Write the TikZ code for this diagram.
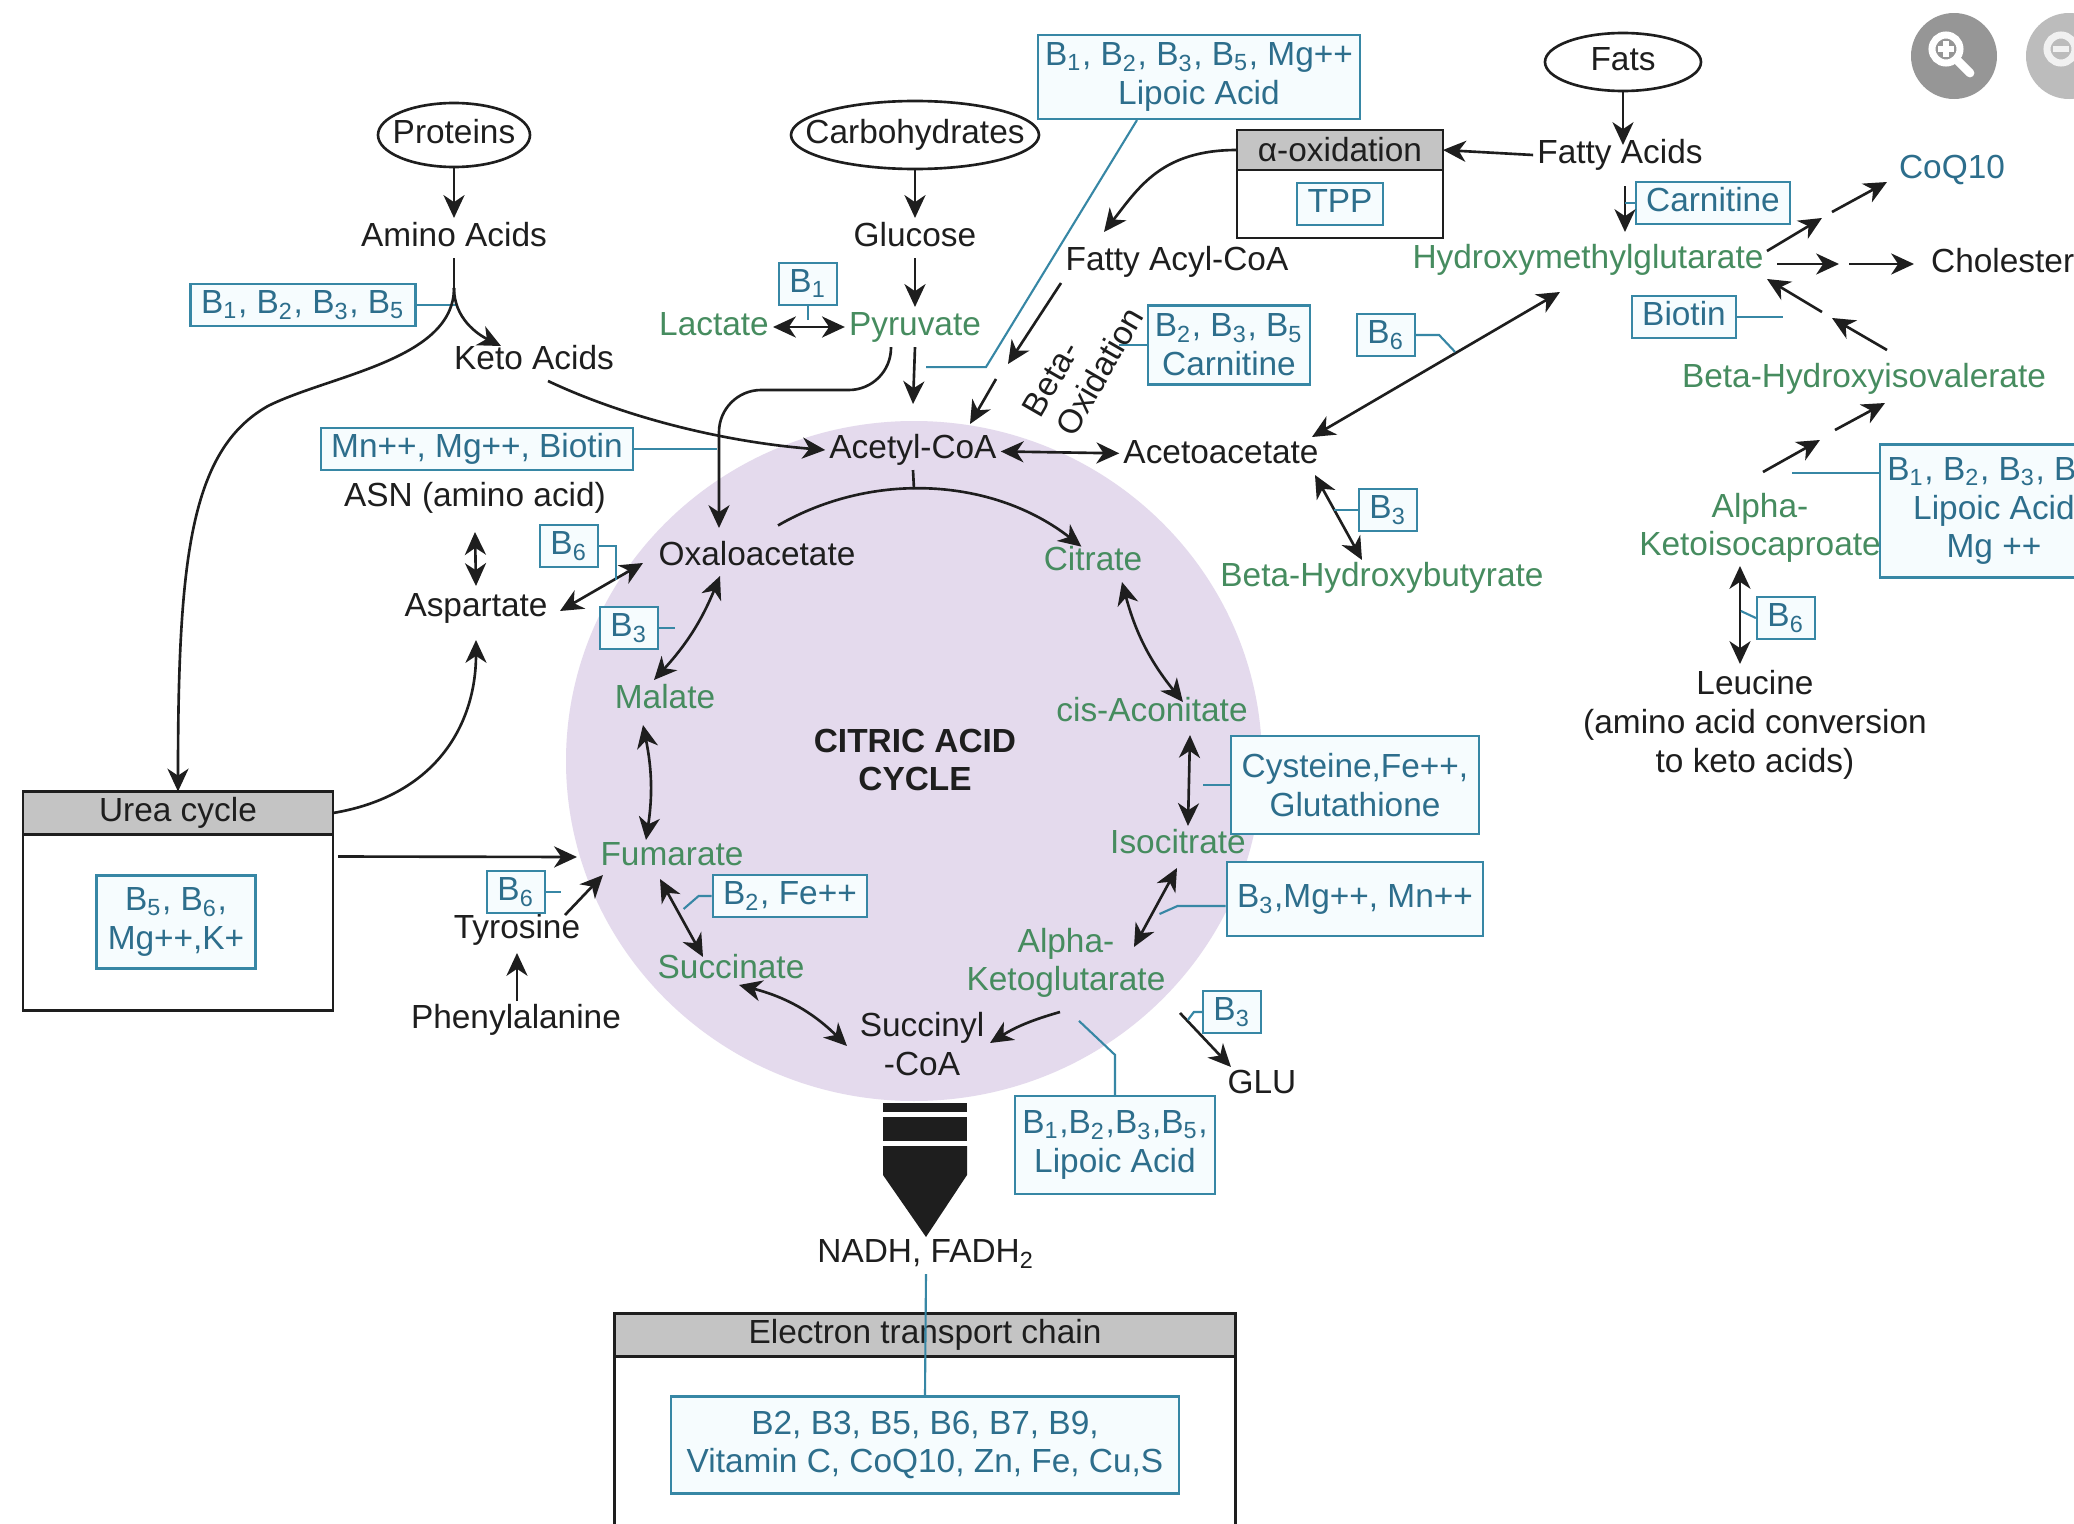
\documentclass[tikz,border=0pt]{standalone}
\usepackage{fontspec}
\setmainfont{Liberation Sans}
\usetikzlibrary{arrows.meta,positioning,calc}

\definecolor{metgreen}{RGB}{70,140,95}
\definecolor{vitline}{RGB}{55,135,165}
\definecolor{vittext}{RGB}{45,110,140}
\definecolor{vitfill}{RGB}{246,252,254}
\definecolor{cycfill}{RGB}{228,218,237}
\definecolor{hdrgray}{RGB}{196,196,196}
\definecolor{ink}{RGB}{30,30,30}
\definecolor{iconA}{RGB}{150,150,150}
\definecolor{iconB}{RGB}{188,188,188}

\newcommand{\figfont}{\fontsize{9.5}{11}\selectfont}
\newcommand{\vitB}[1]{B\textsubscript{#1}}

\tikzset{
  >={Stealth[length=6.5pt,width=6pt,inset=2pt]},
  txt/.style={font=\figfont, text=ink, inner sep=1pt, text height=7pt, text depth=2pt},
  txtm/.style={font=\figfont, text=ink, inner sep=1pt, align=center},
  grn/.style={text=metgreen},
  vit/.style={draw=vitline, fill=vitfill, text=vittext, line width=0.6pt, font=\figfont, inner xsep=3pt, inner ysep=1.5pt, text height=7pt, text depth=2pt},
  vitm/.style={draw=vitline, fill=vitfill, text=vittext, line width=0.6pt, font=\figfont, inner sep=2pt, align=center},
  hdr/.style={draw=ink, fill=hdrgray, line width=0.8pt, font=\figfont, text=ink, inner sep=0pt, outer sep=0pt},
  panel/.style={draw=ink, fill=white, line width=0.8pt, inner sep=0pt, outer sep=0pt},
  ln/.style={draw=ink, line width=0.75pt},
  arr/.style={->, draw=ink, line width=0.75pt},
  darr/.style={<->, draw=ink, line width=0.75pt},
  bline/.style={draw=vitline, line width=0.6pt},
}

\begin{document}
\begin{tikzpicture}[x=0.01cm,y=0.01cm,yscale=-1,xscale=1]
\useasboundingbox (0,0) rectangle (2074,1524);
\clip (0,0) rectangle (2074,1524);
\fill[white] (0,0) rectangle (2074,1524);

%Shape: Ellipse
\coordinate (cyc) at (914,761);
\fill[cycfill] (cyc) ellipse [x radius=348, y radius=340];

%Shape: Rectangle
\node[hdr, minimum width=2.06cm, minimum height=0.40cm] (aoxh) at (1340,150) {α-oxidation};
\node[panel, minimum width=2.06cm, minimum height=0.68cm, below=0pt of aoxh] (aoxb) {};
\node[hdr, minimum width=3.10cm, minimum height=0.43cm] (ureah) at (178,813) {Urea cycle};
\node[panel, minimum width=3.10cm, minimum height=1.76cm, below=0pt of ureah] (ureab) {};
\node[hdr, minimum width=6.20cm, minimum height=0.43cm] (etch) at (925,1335) {Electron transport chain};
\node[panel, minimum width=6.20cm, minimum height=2.20cm, below=0pt of etch] (etcb) {};

% Text Node
\node[txt] (prot) at (454,135) {Proteins};
\draw[ln] (prot) ellipse [x radius=76, y radius=32];
\node[txt] (carb) at (915,135) {Carbohydrates};
\draw[ln] (carb) ellipse [x radius=124, y radius=34];
\node[txt] (fats) at (1623,62) {Fats};
\draw[ln] (fats) ellipse [x radius=78, y radius=29];

\node[txt] (amino) at (454,238) {Amino Acids};
\node[txt] (gluc) at (915,238) {Glucose};
\node[txt] (keto) at (534,361) {Keto Acids};
\node[txt, grn] (lact) at (714,327) {Lactate};
\node[txt, grn] (pyr) at (915,327) {Pyruvate};
\node[vit] (vB1) at (808,284) {\vitB{1}};
\node[vit] (vBa) at (303,305) {\vitB{1}, \vitB{2}, \vitB{3}, \vitB{5}};
\node[vitm, minimum width=3.14cm, minimum height=0.84cm] (vLip) at (1199,77) {\vitB{1}, \vitB{2}, \vitB{3}, \vitB{5}, Mg++\\Lipoic Acid};
\node[txt] (facoa) at (1177,262) {Fatty Acyl-CoA};
\node[vit] (vTPP) at (aoxb) {TPP};
\node[txt] (fatac) at (1620,155) {Fatty Acids};
\node[vit] (vCarn) at (1713,203) {Carnitine};
\node[txt, grn] (hmg) at (1588,260) {Hydroxymethylglutarate};
\node[txt, text=vittext] (coq) at (1952,170) {CoQ10};
\node[txt, anchor=west] (chol) at (1927,264) {Cholesterol};
\node[vit] (vBiot) at (1684,317) {Biotin};
\node[txt, grn] (bhiv) at (1864,379) {Beta-Hydroxyisovalerate};
\node[vit] (vB6a) at (1386,335) {\vitB{6}};
\node[vitm, minimum width=1.52cm, minimum height=0.79cm] (vBox2) at (1229,345) {\vitB{2}, \vitB{3}, \vitB{5}\\Carnitine};
\node[txtm, rotate=60, align=left] (betaox) at (1083,362) {Beta-\\Oxidation};
\node[txt] (acoa) at (913,450) {Acetyl-CoA};
\node[txt] (acac) at (1221,455) {Acetoacetate};
\node[vit] (vB3a) at (1388,510) {\vitB{3}};
\node[txt, grn] (bhb) at (1382,578) {Beta-Hydroxybutyrate};
\node[vit] (vMn) at (477,449) {Mn++, Mg++, Biotin};
\node[txt] (asn) at (475,498) {ASN (amino acid)};
\node[txt] (asp) at (476,608) {Aspartate};
\node[vit] (vB6b) at (569,546) {\vitB{6}};
\node[txt] (oxa) at (757,557) {Oxaloacetate};
\node[vit] (vB3b) at (629,628) {\vitB{3}};
\node[txt, grn] (mal) at (665,700) {Malate};
\node[txtm, font=\figfont\bfseries] (cac) at (915,760) {CITRIC ACID\\CYCLE};
\node[txt, grn] (cit) at (1093,562) {Citrate};
\node[txt, grn] (cisa) at (1152,713) {cis-Aconitate};
\node[vitm, minimum width=2.48cm, minimum height=0.98cm] (vCys) at (1355,785) {Cysteine,Fe++,\\Glutathione};
\node[txt, grn] (isoc) at (1178,845) {Isocitrate};
\node[vit, minimum width=2.48cm, minimum height=0.74cm] (vB3Mg) at (1355,899) {\vitB{3},Mg++, Mn++};
\node[txtm, grn] (akg) at (1066,963) {Alpha-\\Ketoglutarate};
\node[vit] (vB3c) at (1232,1012) {\vitB{3}};
\node[txt] (glu) at (1262,1085) {GLU};
\node[vitm, minimum width=1.93cm, minimum height=0.98cm] (vLip2) at (1115,1145) {\vitB{1},\vitB{2},\vitB{3},\vitB{5},\\Lipoic Acid};
\node[txtm] (sucoa) at (922,1044) {Succinyl\\-CoA};
\node[txt, grn] (succ) at (731,970) {Succinate};
\node[txt, grn] (fum) at (672,857) {Fumarate};
\node[vit] (vB2Fe) at (790,896) {\vitB{2}, Fe++};
\node[txt] (tyr) at (517,930) {Tyrosine};
\node[vit] (vB6c) at (516,892) {\vitB{6}};
\node[txt] (phe) at (516,1020) {Phenylalanine};
\node[vitm, minimum width=1.59cm, minimum height=0.93cm] (vUrea) at (176,922) {\vitB{5}, \vitB{6},\\Mg++,K+};
\node[txt] (nadh) at (926,1254) {NADH, FADH\textsubscript{2}};
\node[vitm, minimum width=5.08cm, minimum height=0.97cm] (vEtc) at (925,1445) {B2, B3, B5, B6, B7, B9,\\Vitamin C, CoQ10, Zn, Fe, Cu,S};
\node[txtm, grn] (akic) at (1760,528) {Alpha-\\Ketoisocaproate};
\node[vitm, minimum height=1.33cm] (vBr) at (1994,511) {\vitB{1}, \vitB{2}, \vitB{3}, \vitB{5},\\Lipoic Acid\\Mg ++};
\node[txtm] (leu) at (1755,725) {Leucine\\(amino acid conversion\\to keto acids)};
\node[vit] (vB6d) at (1786,618) {\vitB{6}};

%Shape: Polygon
\fill[ink] (883,1103) rectangle (967,1112);
\fill[ink] (883,1117) rectangle (967,1141);
\fill[ink] (883,1146) -- (967,1146) -- (967,1175) -- (926,1237) -- (883,1175) -- cycle;

%Straight Lines
\draw[arr] ($(prot)+(0,32)$) -- (amino.north);
\draw[arr] ($(carb)+(0,34)$) -- (gluc.north);
\draw[arr] (gluc.south) -- (pyr.north);
\draw[arr] ($(fats)+(0,29)$) -- ($(fatac)+(3,-10)$);
\draw[arr] (pyr.south) -- ($(acoa)+(0,-46)$);
\draw[darr] (lact) -- (pyr);
\draw[bline] (vB1.south) -- ++(0,14);
\draw[arr, rounded corners=12] ($(pyr)+(-24,20)$) -- ++(0,43) -| ($(oxa)+(-38,-29)$);
\draw[bline] (vMn.east) -- ++(83,0);
\coordinate (split) at ($(amino)+(0,50)$);
\draw[ln] (amino.south) -- (split);
\draw[bline] (vBa.east) -- ++(41,0);
\draw[darr] (acoa) -- (acac);
\draw[ln] (acoa.south) -- ($(cyc)+(0,-272)$);
\draw[darr] ($(cisa)+(38,22)$) -- ($(isoc)+(10,-19)$);
\draw[bline] (vCys.west) -- ++(-27,0);
\draw[darr] ($(isoc)+(-1,23)$) -- ($(akg)+(68,-16)$);
\draw[bline] ($(vB3Mg.west)+(0,7)$) -- ++(-48,0) -- ++(-18,8);
\draw[arr] ($(akg)+(114,50)$) -- ($(glu)+(-31,-18)$);
\draw[bline] (vB3c.west) -- ++(-8,0) -- ++(-6,8);
\draw[bline] (vLip2.north) -- ++(0,-40) -- ++(-36,-34);
\draw[darr] ($(fum)+(-12,22)$) -- ($(succ)+(-28,-13)$);
\draw[bline] (vB2Fe.west) -- ++(-13,0) -- ++(-15,13);
\draw[bline] (vB3b.east) -- ++(16,0);
\draw[darr] ($(asn)+(0,34)$) -- ($(asp)+(0,-22)$);
\draw[darr] ($(asp)+(84,3)$) -- ($(oxa)+(-114,6)$);
\draw[bline] (vB6b.east) -- ++(17,0) -- ++(0,34);
\draw[arr] ($(ureah.south east)+(5,22)$) -- ($(fum)+(-95,0)$);
\draw[arr] ($(phe)+(1,-19)$) -- ($(tyr)+(0,23)$);
\draw[arr] ($(tyr)+(48,-15)$) -- ($(fum)+(-69,18)$);
\draw[bline] (vB6c.east) -- ++(15,0);
\draw[darr] ($(acac)+(94,20)$) -- ($(bhb)+(-20,-18)$);
\draw[bline] (vB3a.west) -- ++(-24,0);
\draw[darr] ($(acac)+(91,-18)$) -- ($(hmg)+(-28,32)$);
\draw[bline] (vB6a.east) -- ++(23,0) -- ++(16,17);
\draw[bline] (vBox2.west) -- ++(-28,0);
\draw[arr] (fatac.west) -- (aoxh.east);
\draw[arr] ($(facoa)+(-116,21)$) -- ($(acoa)+(95,-86)$);
\draw[arr] ($(acoa)+(83,-71)$) -- ($(acoa)+(57,-26)$);
\draw[bline] ($(vLip.south)+(-62,0)$) -- ++(-151,247) -- ++(-60,0);
\draw[arr] ($(fatac)+(5,31)$) -- ($(hmg)+(37,-28)$);
\draw[bline] (vCarn.west) -- ++(-10,0);
\draw[arr] ($(hmg)+(179,-9)$) -- ($(hmg)+(234,-42)$);
\draw[arr] ($(coq)+(-120,42)$) -- ($(coq)+(-65,12)$);
\draw[arr] ($(hmg)+(189,4)$) -- ($(hmg)+(251,4)$);
\draw[arr] ($(chol.west)+(-78,0)$) -- ($(chol.west)+(-13,0)$);
\draw[arr] ($(hmg)+(234,52)$) -- ($(hmg)+(179,19)$);
\draw[arr] ($(bhiv)+(23,-29)$) -- ($(bhiv)+(-32,-61)$);
\draw[bline] (vBiot.east) -- ++(46,0);
\draw[arr] ($(akic)+(3,-56)$) -- ($(akic)+(60,-88)$);
\draw[arr] ($(bhiv)+(-29,51)$) -- ($(bhiv)+(21,24)$);
\draw[bline] ($(vBr.west)+(0,-38)$) -- ++(-87,0);
\draw[darr] ($(akic)+(-20,38)$) -- ($(leu)+(-15,-61)$);
\draw[bline] (vB6d.west) -- ++(-15,-7);
\draw[bline] (nadh.south) -- (vEtc.north);

%Curve Lines
\draw[arr] (split) .. controls +(0,30) and +(-24,-12) .. ($(keto)+(-33,-15)$);
\draw[arr] (split) .. controls (454,360) and (330,375) .. (268,406) .. controls (190,450) and (178,560) .. (ureah.north);
\draw[arr] ($(keto)+(14,20)$) .. controls +(72,34) and +(-109,-9) .. (acoa.west);
\draw[arr] ($(cyc)+(-120:272)$) arc [start angle=-120, end angle=-52, radius=272];
\draw[darr] ($(cit)+(29,20)$) to[bend left=12] ($(cisa)+(31,-11)$);
\draw[arr] ($(akg)+(-6,49)$) to[bend left=8] ($(sucoa)+(68,-1)$);
\draw[darr] ($(succ)+(8,15)$) to[bend right=15] ($(sucoa)+(-75,2)$);
\draw[darr] ($(mal)+(-22,25)$) to[bend right=10] ($(fum)+(-26,-17)$);
\draw[darr] ($(oxa)+(-37,19)$) to[bend right=10] ($(mal)+(-11,-20)$);
\draw[arr] (ureah.east) .. controls +(107,-18) and +(0,80) .. ($(asp)+(0,32)$);
\draw[arr] (aoxh.west) .. controls +(-75,0) and +(35,-45) .. ($(facoa)+(-73,-30)$);

%Shape: Circle
\fill[iconA] (1954,56) circle [radius=43];
\draw[white, line width=2pt] (1946,49) circle [radius=14];
\draw[white, line width=1.5pt] (1938,49) -- (1954,49) (1946,41) -- (1946,57);
\draw[white, line width=2.5pt, line cap=round] (1957,60) -- (1970,73);
\fill[iconB] (2069,56) circle [radius=43];
\draw[white!80!iconB, line width=2pt] (2061,49) circle [radius=14];
\draw[white!80!iconB, line width=1.5pt] (2053,49) -- (2069,49);

\end{tikzpicture}
\end{document}
